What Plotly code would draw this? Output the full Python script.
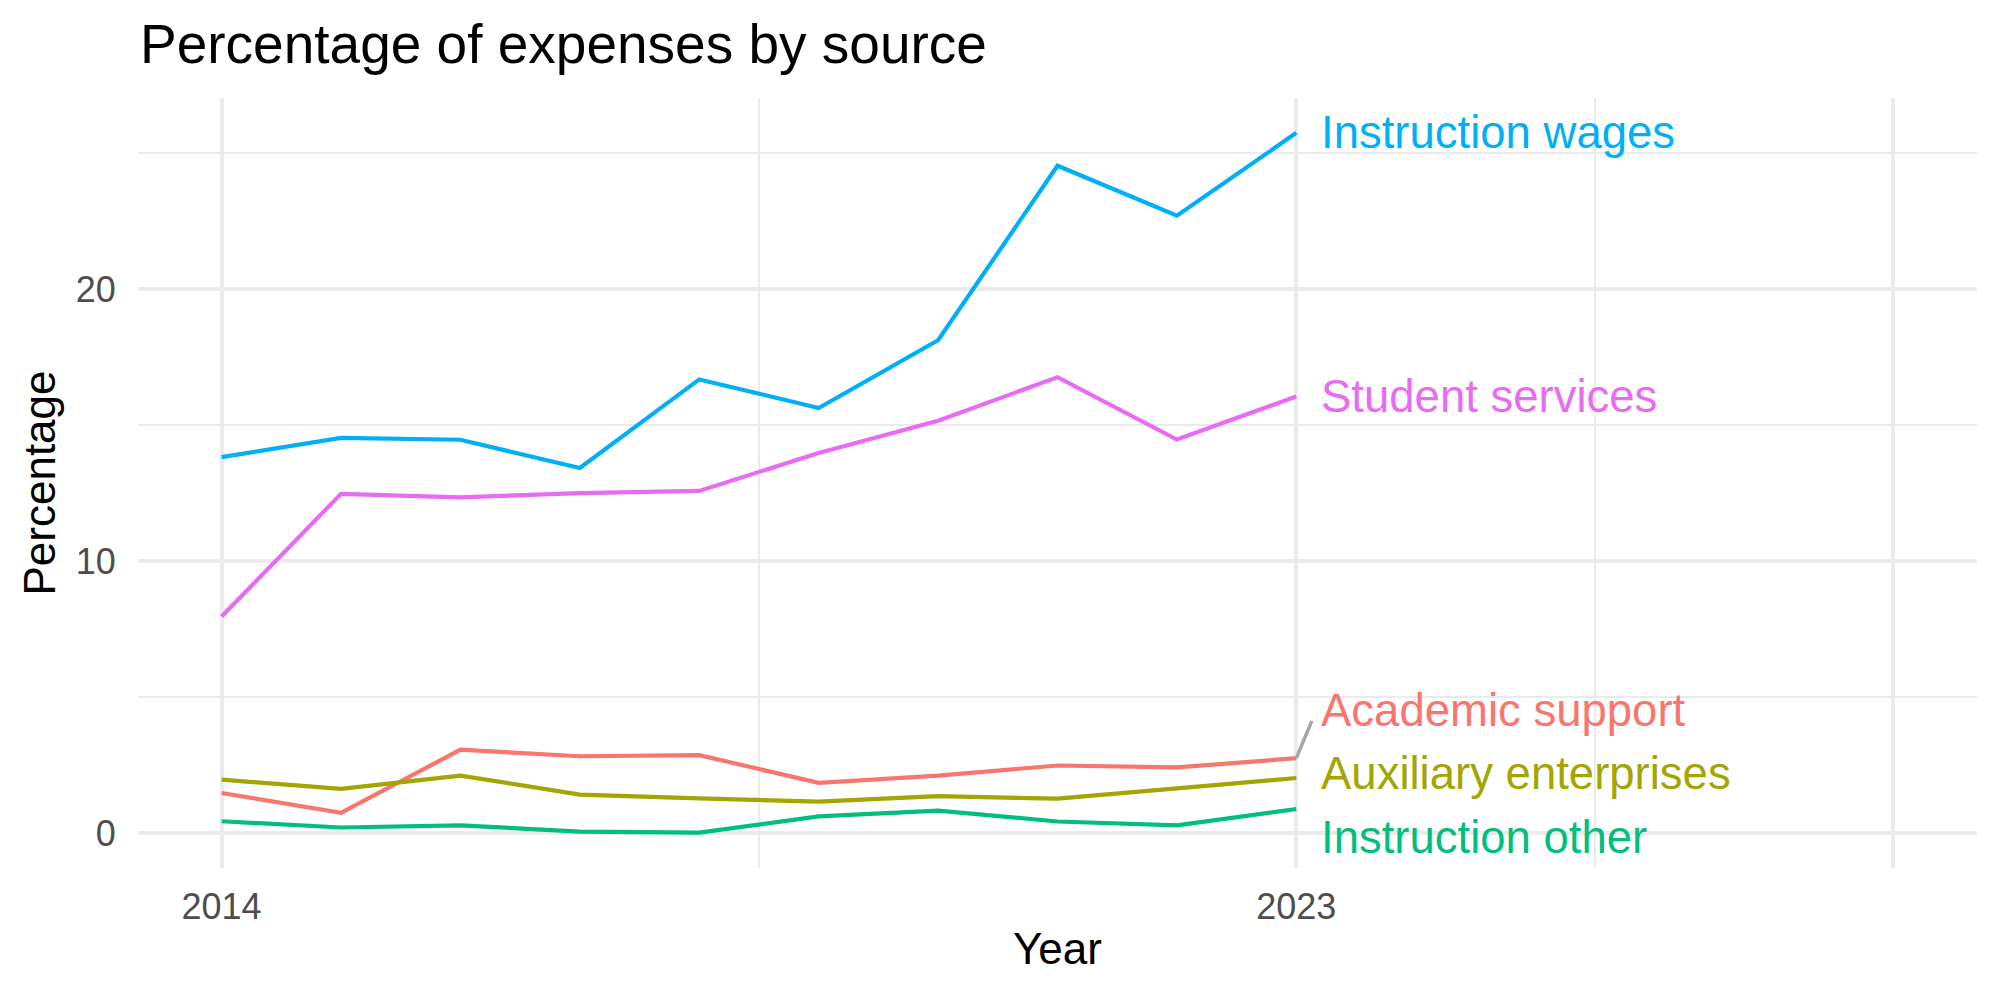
import plotly.graph_objects as go

years = [2014, 2015, 2016, 2017, 2018, 2019, 2020, 2021, 2022, 2023]

series_names = ["Academic support", "Auxiliary enterprises", "Instruction other",
                "Instruction wages", "Student services"]
academic_support = [1.47, 0.74, 3.06, 2.82, 2.86, 1.84, 2.11, 2.48, 2.41, 2.75]
auxiliary_enterprises = [1.96, 1.62, 2.11, 1.41, 1.27, 1.15, 1.35, 1.26, 1.64, 2.02]
instruction_other = [0.43, 0.20, 0.28, 0.05, 0.01, 0.61, 0.82, 0.42, 0.28, 0.88]
instruction_wages = [13.82, 14.53, 14.46, 13.42, 16.68, 15.63, 18.12, 24.54, 22.70, 25.75]
student_services = [7.96, 12.47, 12.34, 12.50, 12.58, 13.97, 15.16, 16.76, 14.47, 16.05]

colors = ["#F8766D", "#A3A500", "#00BF7D", "#00B0F6", "#E76BF3"]

# repelled label positions (y, in data units)
label_x = 2023.19
label_y = [4.49, 2.18, -0.15, 25.77, 16.05]
segment_end = (2023.13, 4.12)

x_tickvals = [2014, 2023, 2028]
x_ticktext = ["2014", "2023", ""]
x_minor = [2018.5, 2025.5]
y_tickvals = [0, 10, 20]
y_minor = [5, 15, 25]

values = [academic_support, auxiliary_enterprises, instruction_other,
          instruction_wages, student_services]

FONT = "Liberation Sans, Arial, sans-serif"

fig = go.Figure()
for name, vals, col in zip(series_names, values, colors):
    fig.add_trace(go.Scatter(x=years, y=vals, mode="lines", name=name,
                             line=dict(color=col, width=4.2), showlegend=False,
                             hoverinfo="skip"))

# repel segment for Academic support
fig.add_trace(go.Scatter(x=[years[-1], segment_end[0]], y=[academic_support[-1], segment_end[1]],
                         mode="lines", line=dict(color="#A6A6A6", width=3.5),
                         showlegend=False, hoverinfo="skip"))

for name, ly, col in zip(series_names, label_y, colors):
    fig.add_annotation(x=label_x, y=ly, text=name, showarrow=False,
                       xanchor="left", yanchor="middle",
                       font=dict(family=FONT, size=45.5, color=col))

fig.update_layout(
    width=2000, height=1000,
    paper_bgcolor="white", plot_bgcolor="white",
    margin=dict(l=138, r=23, t=98, b=132),
    title=dict(text="Percentage of expenses by source", x=140/2000, xanchor="left",
               xref="container", y=1-44/1000, yanchor="middle", yref="container",
               font=dict(family=FONT, size=55, color="black")),
    font=dict(family=FONT),
)

fig.update_xaxes(
    range=[2013.3, 2028.7], tickmode="array", tickvals=x_tickvals, ticktext=x_ticktext,
    showgrid=True, gridcolor="#EBEBEB", gridwidth=3.7, zeroline=False, showline=False,
    ticks="outside", ticklen=7, tickcolor="rgba(0,0,0,0)",
    tickfont=dict(family=FONT, size=36, color="#4D4D4D"),
    minor=dict(tickmode="array", tickvals=x_minor, showgrid=True, gridcolor="#EBEBEB",
               gridwidth=2.2, ticks=""),
    title=dict(text="Year", font=dict(family=FONT, size=44, color="black"), standoff=6),
)
fig.update_yaxes(
    range=[-1.29, 27.03], tickmode="array", tickvals=y_tickvals,
    showgrid=True, gridcolor="#EBEBEB", gridwidth=3.7, zeroline=False, showline=False,
    ticks="outside", ticklen=14, tickcolor="rgba(0,0,0,0)",
    tickfont=dict(family=FONT, size=36, color="#4D4D4D"),
    minor=dict(tickmode="array", tickvals=y_minor, showgrid=True, gridcolor="#EBEBEB",
               gridwidth=2.2, ticks=""),
    title=dict(text="Percentage", font=dict(family=FONT, size=44, color="black"), standoff=6),
)

fig.write_html("out.html")
